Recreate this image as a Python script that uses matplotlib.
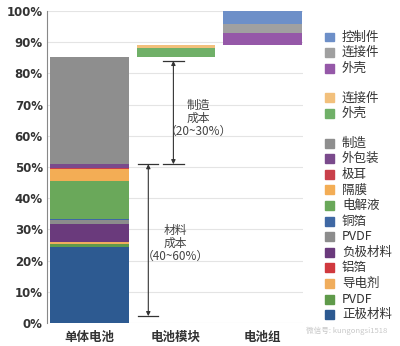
import matplotlib.pyplot as plt

plt.rcParams['font.family'] = ['Noto Sans CJK SC', 'DejaVu Sans']

# categories along the x axis
groups = ['单体电池', '电池模块', '电池组']

# cell cost breakdown (bottom to top, %)
cell_parts = ['正极材料', 'PVDF', '导电剂', '铝箔', '负极材料', 'PVDF', '铜箔',
              '电解液', '隔膜', '极耳', '外包装', '制造']
cell_values = [24.5, 0.8, 0.5, 0.3, 5.5, 1.4, 0.3, 12.3, 3.8, 0.3, 1.2, 34.3]
cell_colors = ['#2d5a91', '#5f9a4a', '#f0ad5c', '#d0393e', '#6a3a7c', '#8c8c8c',
               '#3f68a4', '#6aa85a', '#f3ad55', '#c9404a', '#7a4a8c', '#8e8e8e']

# module level additions, stacked on top of the cell
module_parts = ['外壳', '连接件']
module_values = [3.1, 0.8]
module_colors = ['#70b068', '#f2c07c']

# pack level additions
pack_parts = ['外壳', '连接件', '控制件']
pack_values = [4.0, 2.8, 4.0]
pack_colors = ['#9558a8', '#a0a0a0', '#6d8fc8']

yticks = [0, 10, 20, 30, 40, 50, 60, 70, 80, 90, 100]

fig = plt.figure(figsize=(4.0, 3.46), dpi=100)
ax = fig.add_axes([0.1175, 0.0665, 0.64, 0.9017])

width = 0.91
bottom = 0
for v, c in zip(cell_values, cell_colors):
    ax.bar(0, v, width, bottom=bottom, color=c, edgecolor='none', zorder=2)
    bottom += v
cell_total = bottom

for v, c in zip(module_values, module_colors):
    ax.bar(1, v, width, bottom=bottom, color=c, edgecolor='none', zorder=2)
    bottom += v

for v, c in zip(pack_values, pack_colors):
    ax.bar(2, v, width, bottom=bottom, color=c, edgecolor='none', zorder=2)
    bottom += v

ax.set_xlim(-0.491, 2.468)
ax.set_ylim(0, 100)
ax.set_yticks(yticks)
ax.set_yticklabels([f'{t}%' for t in yticks], fontsize=8.5, fontweight='bold',
                   color='#333333', family='DejaVu Sans')
ax.set_xticks(range(len(groups)))
ax.set_xticklabels(groups, fontsize=9, fontweight='bold', color='#333333')
ax.tick_params(length=0, pad=3)
ax.tick_params(axis='x', pad=6)
ax.grid(axis='y', color='#e4e4e4', linewidth=0.8, zorder=0)
for s in ['top', 'right', 'bottom']:
    ax.spines[s].set_visible(False)
ax.spines['left'].set_color('#888888')
ax.spines['left'].set_linewidth(0.8)

# cost range brackets
mat_lo, split = 2.2, cell_total - 34.3
ax.plot([0.56, 0.79], [mat_lo, mat_lo], color='#333333', lw=0.9, zorder=3)
ax.plot([0.56, 0.79], [split, split], color='#333333', lw=0.9, zorder=3)
ax.plot([0.85, 1.09], [split, split], color='#333333', lw=0.9, zorder=3)
ax.plot([0.85, 1.09], [84.0, 84.0], color='#333333', lw=0.9, zorder=3)
ax.annotate('', xy=(0.68, mat_lo), xytext=(0.68, split),
            arrowprops=dict(arrowstyle='<|-|>', color='#333333', lw=0.8,
                            mutation_scale=6, shrinkA=0, shrinkB=0))
ax.annotate('', xy=(0.97, split), xytext=(0.97, 84.0),
            arrowprops=dict(arrowstyle='<|-|>', color='#333333', lw=0.8,
                            mutation_scale=6, shrinkA=0, shrinkB=0))
ax.text(0.99, 25.6, '材料\n成本\n（40~60%）', ha='center', va='center',
        fontsize=8.5, color='#444444', linespacing=1.0)
ax.text(1.26, 65.7, '制造\n成本\n（20~30%）', ha='center', va='center',
        fontsize=8.5, color='#444444', linespacing=1.0)

# legend, grouped by level
legend_items = []
legend_items += list(zip(pack_parts[::-1], pack_colors[::-1]))
legend_items.append(None)
legend_items += list(zip(module_parts[::-1], module_colors[::-1]))
legend_items.append(None)
legend_items += list(zip(cell_parts[::-1], cell_colors[::-1]))

y = 1 - 37 / 346
step = 15.6 / 346
for item in legend_items:
    if item is None:
        y -= step * 0.9
        continue
    name, c = item
    fig.patches.append(plt.Rectangle((0.812, y - 0.013), 0.022, 0.026,
                                     transform=fig.transFigure, color=c,
                                     figure=fig))
    fig.text(0.855, y, name, fontsize=9, color='#333333', va='center')
    y -= step

fig.text(0.765, 0.045, '微信号: kungongsi1518', fontsize=5.5, color='#c8c8c8',
         va='center')

fig.savefig('out.png', dpi=100)
